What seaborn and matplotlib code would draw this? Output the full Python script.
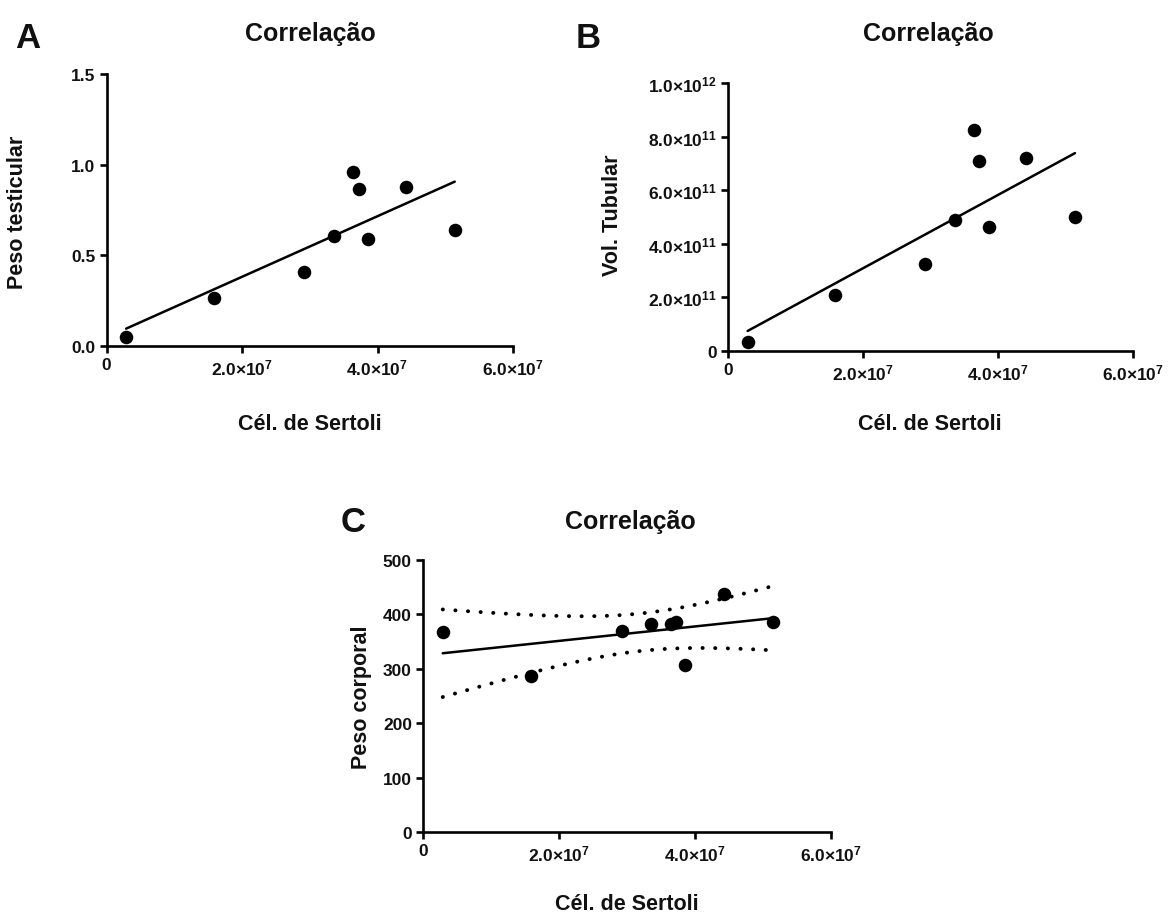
import numpy as np
import pandas as pd
import matplotlib
matplotlib.use("Agg")
import matplotlib.pyplot as plt
from matplotlib.ticker import FixedLocator, FuncFormatter
import seaborn as sns

# ---------------- data ----------------
sertoli = [0.29e7, 1.59e7, 2.92e7, 3.36e7, 3.64e7, 3.72e7, 3.86e7, 4.42e7, 5.14e7]
peso_testicular = [0.05, 0.267, 0.41, 0.606, 0.958, 0.868, 0.588, 0.877, 0.638]
vol_tubular = [0.035e12, 0.209e12, 0.324e12, 0.489e12, 0.825e12, 0.708e12, 0.464e12, 0.722e12, 0.499e12]
peso_corporal = [368, 286, 370, 383, 383, 386, 307, 438, 386]

x_ticks = [0, 2.0e7, 4.0e7, 6.0e7]
yA_ticks = [0.0, 0.5, 1.0, 1.5]
yB_ticks = [0, 2.0e11, 4.0e11, 6.0e11, 8.0e11, 1.0e12]
yC_ticks = [0, 100, 200, 300, 400, 500]

title = "Correlação"
xlabel = "Cél. de Sertoli"
ylabels = ["Peso testicular", "Vol. Tubular", "Peso corporal"]
letters = ["A", "B", "C"]

T975_DF7 = 2.365  # Student t quantile, 95% two-sided, 7 dof

# ---------------- style ----------------
sns.set_style("ticks")
plt.rcParams["font.family"] = ["Liberation Sans", "DejaVu Sans"]
plt.rcParams["font.weight"] = "bold"
plt.rcParams["mathtext.fontset"] = "custom"
plt.rcParams["mathtext.rm"] = "Liberation Sans:bold"
plt.rcParams["mathtext.it"] = "Liberation Sans:bold"
plt.rcParams["mathtext.bf"] = "Liberation Sans:bold"
plt.rcParams["mathtext.default"] = "rm"

W, H = 1174, 920
fig = plt.figure(figsize=(W / 100, H / 100), dpi=100)


def px_axes(left, right, top, bottom):
    return fig.add_axes([left / W, 1 - bottom / H, (right - left) / W, (bottom - top) / H])


def sci_fmt(v, pos=None):
    if v == 0:
        return "0"
    exp = int(np.floor(np.log10(abs(v)) + 1e-9))
    mant = v / 10 ** exp
    return r"$%.1f{\times}10^{%d}$" % (mant, exp)


def style_axes(ax, yticks, yfmt):
    ax.set_xlim(0, 6.0e7)
    ax.set_ylim(yticks[0], yticks[-1])
    ax.xaxis.set_major_locator(FixedLocator(x_ticks))
    ax.yaxis.set_major_locator(FixedLocator(yticks))
    ax.xaxis.set_major_formatter(FuncFormatter(sci_fmt))
    ax.yaxis.set_major_formatter(FuncFormatter(yfmt))
    sns.despine(ax=ax)
    for s in ("left", "bottom"):
        ax.spines[s].set_linewidth(1.9)
        ax.spines[s].set_color("black")
    ax.tick_params(axis="both", direction="out", length=5, width=1.9, color="black",
                   labelsize=12.5, pad=3, labelcolor="#111111")
    for lab in ax.get_xticklabels() + ax.get_yticklabels():
        lab.set_fontweight("bold")
    ax.set_xlabel("")
    ax.set_ylabel("")


def draw_panel(ax, y, yticks, yfmt, band=False):
    df = pd.DataFrame({"x": sertoli, "y": y})
    sns.regplot(data=df, x="x", y="y", ax=ax, ci=None, truncate=True,
                scatter_kws=dict(s=95, color="black", edgecolor="black", linewidths=0,
                                 alpha=1, zorder=3),
                line_kws=dict(color="black", lw=1.8, zorder=2))
    if band:
        xa = np.asarray(sertoli, float)
        ya = np.asarray(y, float)
        n = len(xa)
        slope, intercept = np.polyfit(xa, ya, 1)
        resid = ya - (slope * xa + intercept)
        s = np.sqrt(np.sum(resid ** 2) / (n - 2))
        sxx = np.sum((xa - xa.mean()) ** 2)
        grid = np.linspace(xa.min(), xa.max(), 200)
        se = s * np.sqrt(1.0 / n + (grid - xa.mean()) ** 2 / sxx)
        fit = slope * grid + intercept
        for yy in (fit + T975_DF7 * se, fit - T975_DF7 * se):
            sns.lineplot(x=grid, y=yy, ax=ax, color="black", lw=2.8,
                         linestyle=(0, (0.05, 3.2)), dash_capstyle="round", zorder=2)
    style_axes(ax, yticks, yfmt)


axA = px_axes(106.5, 513, 75, 347)
axB = px_axes(728, 1133, 84, 352)
axC = px_axes(423, 831, 561, 833)

draw_panel(axA, peso_testicular, yA_ticks, lambda v, p=None: "%.1f" % v)
draw_panel(axB, vol_tubular, yB_ticks, sci_fmt)
draw_panel(axC, peso_corporal, yC_ticks, lambda v, p=None: "%d" % v, band=True)


def ftext(x, y, s, **kw):
    fig.text(x / W, 1 - y / H, s, ha="center", va="center", fontweight="bold",
             color="#111111", **kw)


# titles
ftext(310, 34, title, fontsize=18)
ftext(928, 34, title, fontsize=18)
ftext(630, 522, title, fontsize=18)
# panel letters
ftext(28, 38, letters[0], fontsize=25)
ftext(588, 38, letters[1], fontsize=25)
ftext(353, 522, letters[2], fontsize=25)
# x labels
ftext(310, 425, xlabel, fontsize=15.5)
ftext(930, 425, xlabel, fontsize=15.5)
ftext(627, 905, xlabel, fontsize=15.5)
# y labels
ftext(18, 212, ylabels[0], fontsize=15.5, rotation=90)
ftext(612, 215, ylabels[1], fontsize=15.5, rotation=90)
ftext(362, 697, ylabels[2], fontsize=15.5, rotation=90)

fig.savefig("out.png", dpi=100, facecolor="white")
